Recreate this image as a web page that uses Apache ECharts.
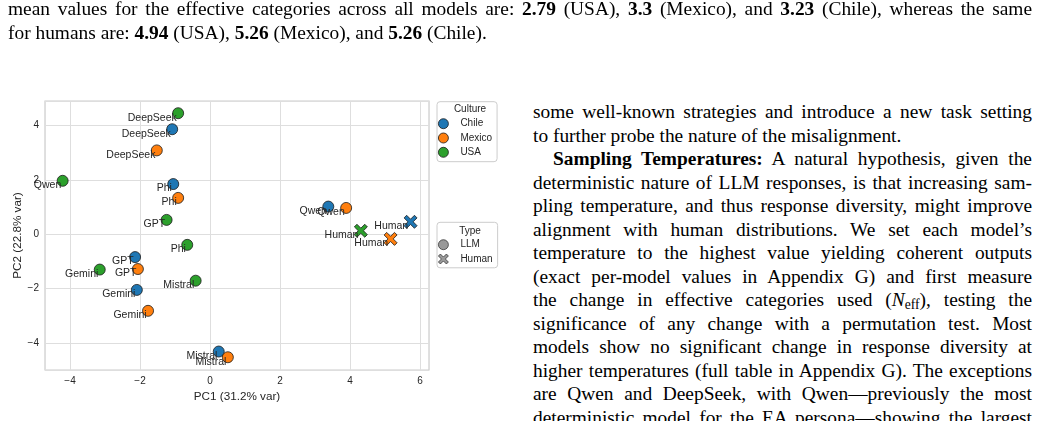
<!DOCTYPE html>
<html>
<head>
<meta charset="utf-8">
<title>PCA of cultural responses</title>
<script src="https://cdn.jsdelivr.net/npm/echarts@6/dist/echarts.min.js"></script>
<style>
html,body{margin:0;padding:0;background:#fff;width:1041px;height:421px;overflow:hidden;}
#chart{position:absolute;left:0;top:0;width:520px;height:421px;z-index:0;}
.txt{position:absolute;z-index:1;font-family:"Liberation Serif","Times New Roman",serif;font-size:19.4px;line-height:23.5px;color:#000;}
.txt div{text-align:justify;text-align-last:justify;}
.txt div.end{text-align-last:left;}
.txt div.ind{text-indent:20px;}
.txt .sub{font-size:70%;line-height:0;vertical-align:-0.25em;}
</style>
</head>
<body>
<div id="chart"></div>
<div class="txt" style="left:8px;top:-3px;width:1024px;">
  <div>mean values for the effective categories across all models are: <b>2.79</b> (USA), <b>3.3</b> (Mexico), and <b>3.23</b> (Chile), whereas the same</div>
  <div class="end">for humans are: <b>4.94</b> (USA), <b>5.26</b> (Mexico), and <b>5.26</b> (Chile).</div>
</div>
<div class="txt" style="left:533px;top:100px;width:499px;">
  <div>some well-known strategies and introduce a new task setting</div>
  <div class="end">to further probe the nature of the misalignment.</div>
  <div class="ind"><b>Sampling Temperatures:</b> A natural hypothesis, given the</div>
  <div>deterministic nature of LLM responses, is that increasing sam-</div>
  <div>pling temperature, and thus response diversity, might improve</div>
  <div>alignment with human distributions. We set each model’s</div>
  <div>temperature to the highest value yielding coherent outputs</div>
  <div>(exact per-model values in Appendix G) and first measure</div>
  <div>the change in effective categories used (<i>N</i><span class="sub">eff</span>), testing the</div>
  <div>significance of any change with a permutation test. Most</div>
  <div>models show no significant change in response diversity at</div>
  <div>higher temperatures (full table in Appendix G). The exceptions</div>
  <div>are Qwen and DeepSeek, with Qwen—previously the most</div>
  <div>deterministic model for the EA persona—showing the largest</div>
</div>
<script>
// points: one entry per model, same order in every array
var models = ['DeepSeek', 'Qwen', 'Phi', 'GPT', 'Gemini', 'Mistral', 'Human'];
var cultures = ['Chile', 'Mexico', 'USA'];
var chilePC1  = [-1.08, 3.38, -1.05, -2.14, -2.09, 0.25, 5.73];
var chilePC2  = [3.87, 1.02, 1.85, -0.84, -2.05, -4.32, 0.46];
var mexicoPC1 = [-1.52, 3.89, -0.91, -2.06, -1.77, 0.51, 5.16];
var mexicoPC2 = [3.09, 0.97, 1.34, -1.28, -2.82, -4.53, -0.17];
var usaPC1    = [-0.91, -4.21, -0.65, -1.24, -3.15, -0.41, 4.31];
var usaPC2    = [4.46, 1.97, -0.39, 0.53, -1.30, -1.71, 0.13];
var types = ['LLM', 'Human'];

var colors = ['#1f77b4', '#ff7f0e', '#2ca02c'];
var xMark = 'path://M0,4L4,0L10,6L16,0L20,4L14,10L20,16L16,20L10,14L4,20L0,16L6,10Z';
var font = 'Liberation Sans';

function buildSeries(name, color, xs, ys) {
    var data = [];
    for (var i = 0; i < models.length; i++) {
        var item = {name: models[i], value: [xs[i], ys[i]]};
        if (models[i] == 'Human') {
            item.symbol = xMark;
            item.symbolSize = 13;
        }
        data.push(item);
    }
    return {
        name: name,
        type: 'scatter',
        data: data,
        symbol: 'circle',
        symbolSize: 11,
        itemStyle: {color: color, borderColor: '#1a1a1a', borderWidth: 0.8, opacity: 1},
        label: {
            show: true,
            formatter: '{b}',
            position: 'left',
            distance: 0,
            offset: [4.5, 4.5],
            color: '#262626',
            fontSize: 10.5,
            fontFamily: font
        },
        emphasis: {disabled: true},
        animation: false
    };
}

// tick labels only on even integers, with a real minus sign
function tickFmt(v) {
    var r = Math.round(v);
    if (Math.abs(v - r) > 1e-6 || r % 2 != 0) return '';
    return r < 0 ? '\u2212' + (-r) : String(r);
}

var series = [
    buildSeries(cultures[0], colors[0], chilePC1, chilePC2),
    buildSeries(cultures[1], colors[1], mexicoPC1, mexicoPC2),
    buildSeries(cultures[2], colors[2], usaPC1, usaPC2),
    // empty series only so the Type legend has entries
    {name: types[0], type: 'scatter', data: [], symbol: 'circle',
        itemStyle: {color: '#808080', borderColor: '#1a1a1a', borderWidth: 0.8}},
    {name: types[1], type: 'scatter', data: [], symbol: xMark,
        itemStyle: {color: '#808080', borderColor: '#1a1a1a', borderWidth: 0.8}}
];

var legendBase = {
    orient: 'vertical',
    left: 437,
    itemWidth: 24,
    itemHeight: 10,
    itemGap: 3.5,
    borderColor: '#cccccc',
    borderWidth: 1,
    borderRadius: 3,
    backgroundColor: '#ffffff',
    selectedMode: false,
    textStyle: {fontSize: 10, color: '#262626', fontFamily: font, lineHeight: 10},
    itemStyle: {borderColor: '#1a1a1a', borderWidth: 0.8}
};

var titleStyle = {fontSize: 10, fill: '#262626', fontFamily: font,
    align: 'center', verticalAlign: 'middle', textAlign: 'center', textVerticalAlign: 'middle'};

var option = {
    backgroundColor: 'transparent',
    animation: false,
    textStyle: {fontFamily: font},
    grid: {
        show: true, left: 45, top: 101, width: 384, height: 269,
        borderColor: '#cccccc', borderWidth: 1.2
    },
    xAxis: {
        type: 'value',
        min: -4.714, max: 6.257,
        splitNumber: 5,
        name: 'PC1 (31.2% var)',
        nameLocation: 'middle',
        nameGap: 18,
        nameTextStyle: {fontSize: 11.7, color: '#262626', fontFamily: font},
        axisLine: {show: false},
        axisTick: {show: false},
        axisLabel: {formatter: tickFmt, fontSize: 10, color: '#262626', margin: 6,
            showMinLabel: false, showMaxLabel: false, fontFamily: font},
        splitLine: {lineStyle: {color: '#dedede', width: 1}}
    },
    yAxis: {
        type: 'value',
        min: -5.0, max: 4.91,
        splitNumber: 5,
        axisLine: {show: false},
        axisTick: {show: false},
        axisLabel: {formatter: tickFmt, fontSize: 10, color: '#262626', margin: 6,
            showMinLabel: false, showMaxLabel: false, fontFamily: font},
        splitLine: {lineStyle: {color: '#dedede', width: 1}}
    },
    legend: [
        Object.assign({}, legendBase, {
            top: 101.7,
            padding: [16.6, 5, 4, 1],
            data: cultures.map(function (c) { return {name: c, icon: 'circle'}; })
        }),
        Object.assign({}, legendBase, {
            top: 222.3,
            padding: [17, 5, 3.4, 1],
            data: [{name: types[0], icon: 'circle'}, {name: types[1], icon: xMark}]
        })
    ],
    graphic: [
        // y axis title, placed by hand so it sits where the reference has it
        {type: 'text', x: 18, y: 235.5, rotation: Math.PI / 2, z: 10,
            style: Object.assign({}, titleStyle, {text: 'PC2 (22.8% var)', fontSize: 11.7})},
        {type: 'text', x: 470, y: 109.5, z: 10,
            style: Object.assign({}, titleStyle, {text: 'Culture'})},
        {type: 'text', x: 470, y: 231, z: 10,
            style: Object.assign({}, titleStyle, {text: 'Type'})}
    ],
    series: series
};

var myChart = echarts.init(document.getElementById('chart'), null, {renderer: 'canvas'});
myChart.setOption(option);
</script>
</body>
</html>
